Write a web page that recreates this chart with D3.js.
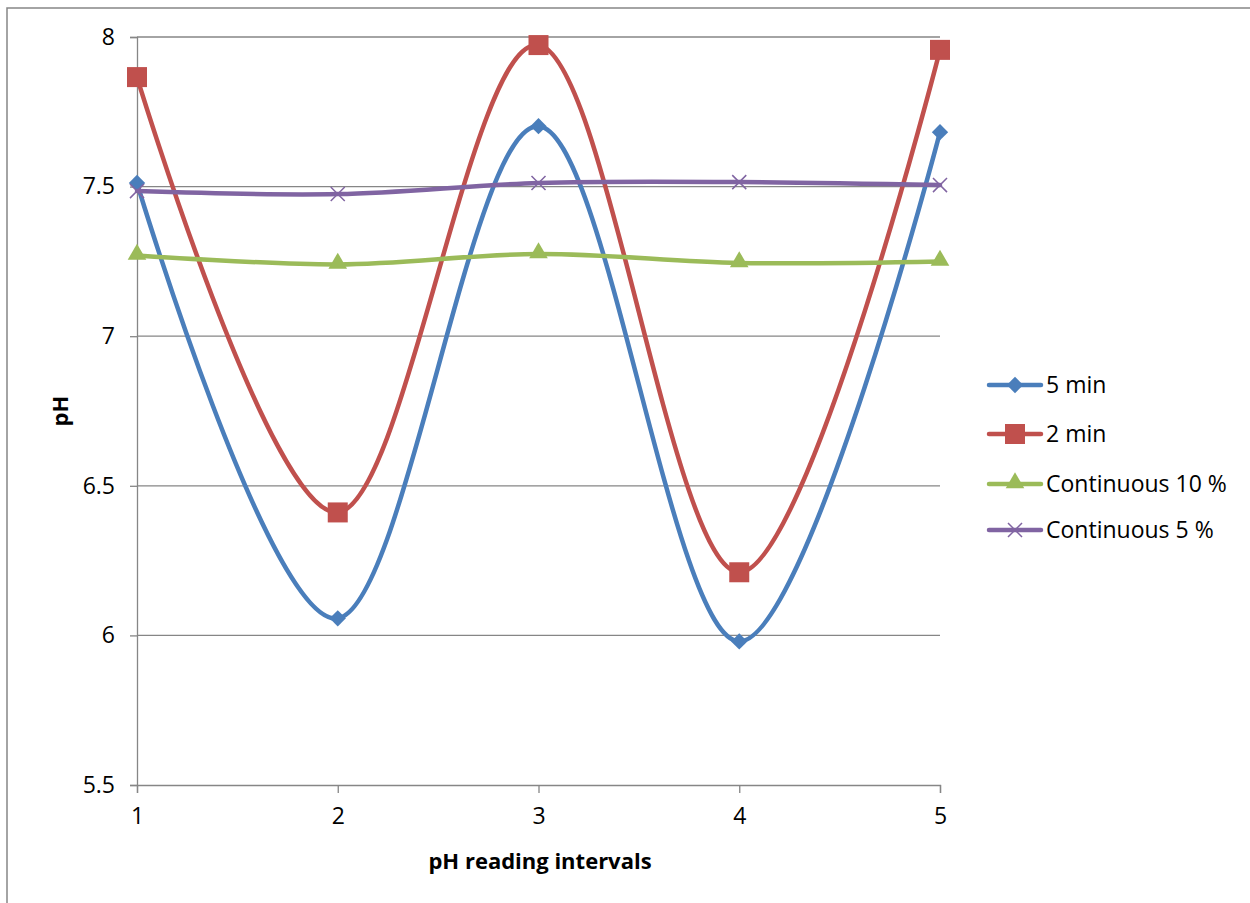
<!DOCTYPE html>
<html>
<head>
<meta charset="utf-8">
<script src="https://cdn.jsdelivr.net/npm/d3@7"></script>
<style>
  body { margin: 0; background: #fff; }
  text { font-family: "Open Sans", sans-serif; fill: #000; }
</style>
</head>
<body>
<script>
var intervals = [1, 2, 3, 4, 5];
var fiveMin = [7.512, 6.057, 7.702, 5.98, 7.682];
var twoMin = [7.866, 6.411, 7.973, 6.211, 7.957];
var cont10 = [7.27, 7.24, 7.275, 7.245, 7.25];
var cont5 = [7.485, 7.475, 7.512, 7.515, 7.505];
var yTicks = [5.5, 6, 6.5, 7, 7.5, 8];
var seriesNames = ["5 min", "2 min", "Continuous 10 %", "Continuous 5 %"];

var main = function() {
  var W = 1250, H = 903;
  var margin = {top: 37, left: 137, right: 310, bottom: 118};
  var fontSize = "23px";

  var svg = d3.select("body").append("svg")
    .attr("width", W).attr("height", H);

  // outer chart border
  svg.append("rect")
    .attr("x", 7).attr("y", 8)
    .attr("width", W).attr("height", H)
    .attr("fill", "none").attr("stroke", "#868686").attr("stroke-width", 1.5);

  var x = d3.scaleLinear().domain([1, 5]).range([margin.left, W - margin.right]);
  var y = d3.scaleLinear().domain([5.5, 8]).range([H - margin.bottom, margin.top]);

  // gridlines
  svg.append("g").selectAll("line")
    .data(yTicks.slice(1))
    .enter().append("line")
    .attr("x1", x(1)).attr("x2", x(5))
    .attr("y1", function(d) { return y(d); })
    .attr("y2", function(d) { return y(d); })
    .attr("stroke", "#868686").attr("stroke-width", 1.3);

  var yAxis = svg.append("g")
    .attr("transform", "translate(" + x(1) + ",0)")
    .call(d3.axisLeft(y).tickValues(yTicks).tickSize(7).tickPadding(15).tickFormat(d3.format("")));
  var xAxis = svg.append("g")
    .attr("transform", "translate(0," + y(5.5) + ")")
    .call(d3.axisBottom(x).tickValues(intervals).tickSize(8).tickPadding(15).tickFormat(d3.format("d")));
  [xAxis, yAxis].forEach(function(a) {
    a.select(".domain").attr("stroke", "#868686").attr("stroke-width", 1.3);
    a.selectAll(".tick line").attr("stroke", "#868686").attr("stroke-width", 1.3);
    a.selectAll(".tick text").style("font-size", fontSize).style("font-family", "'Open Sans', sans-serif");
  });

  svg.append("text")
    .attr("x", 540).attr("y", 869)
    .attr("text-anchor", "middle")
    .style("font-size", "22px").style("font-weight", "bold")
    .text("pH reading intervals");
  svg.append("text")
    .attr("transform", "translate(68,411) rotate(-90)")
    .attr("text-anchor", "middle")
    .style("font-size", "22px").style("font-weight", "bold")
    .text("pH");

  var series = [
    {name: seriesNames[0], values: fiveMin, color: "#4A7EBB", marker: "diamond"},
    {name: seriesNames[1], values: twoMin, color: "#C0504D", marker: "square"},
    {name: seriesNames[2], values: cont10, color: "#9BBB59", marker: "triangle"},
    {name: seriesNames[3], values: cont5, color: "#8064A2", marker: "x"}
  ];

  var line = d3.line()
    .x(function(d) { return x(d[0]); })
    .y(function(d) { return y(d[1]); })
    .curve(d3.curveCardinal.tension(0));

  var drawMarker = function(g, type, color, cx, cy) {
    if (type == "diamond") {
      g.append("path").attr("d", d3.symbol(d3.symbolDiamond2, 170)())
        .attr("transform", "translate(" + cx + "," + cy + ")").attr("fill", color);
    } else if (type == "square") {
      g.append("rect").attr("x", cx - 10).attr("y", cy - 10).attr("width", 20).attr("height", 20)
        .attr("fill", color);
    } else if (type == "triangle") {
      g.append("path").attr("d", d3.symbol(d3.symbolTriangle, 150)())
        .attr("transform", "translate(" + cx + "," + (cy - 1) + ")").attr("fill", color);
    } else {
      g.append("path").attr("d", d3.symbol(d3.symbolTimes, 130)())
        .attr("transform", "translate(" + cx + "," + cy + ")")
        .attr("fill", "none").attr("stroke", color).attr("stroke-width", 1.5);
    }
  };

  series.forEach(function(s) {
    var pts = intervals.map(function(v, i) { return [v, s.values[i]]; });
    svg.append("path")
      .attr("d", line(pts))
      .attr("fill", "none").attr("stroke", s.color).attr("stroke-width", 4.5)
      .attr("stroke-linecap", "round");
    var g = svg.append("g");
    pts.forEach(function(p) { drawMarker(g, s.marker, s.color, x(p[0]), y(p[1])); });
  });

  // legend
  var legendY = [385, 434, 484, 530];
  series.forEach(function(s, i) {
    var g = svg.append("g");
    g.append("line").attr("x1", 989).attr("x2", 1041)
      .attr("y1", legendY[i]).attr("y2", legendY[i])
      .attr("stroke", s.color).attr("stroke-width", 4.5).attr("stroke-linecap", "round");
    drawMarker(g, s.marker, s.color, 1015, legendY[i]);
    g.append("text").attr("x", 1046).attr("y", legendY[i] + 8)
      .style("font-size", fontSize).text(s.name);
  });
}

main();
</script>
</body>
</html>
